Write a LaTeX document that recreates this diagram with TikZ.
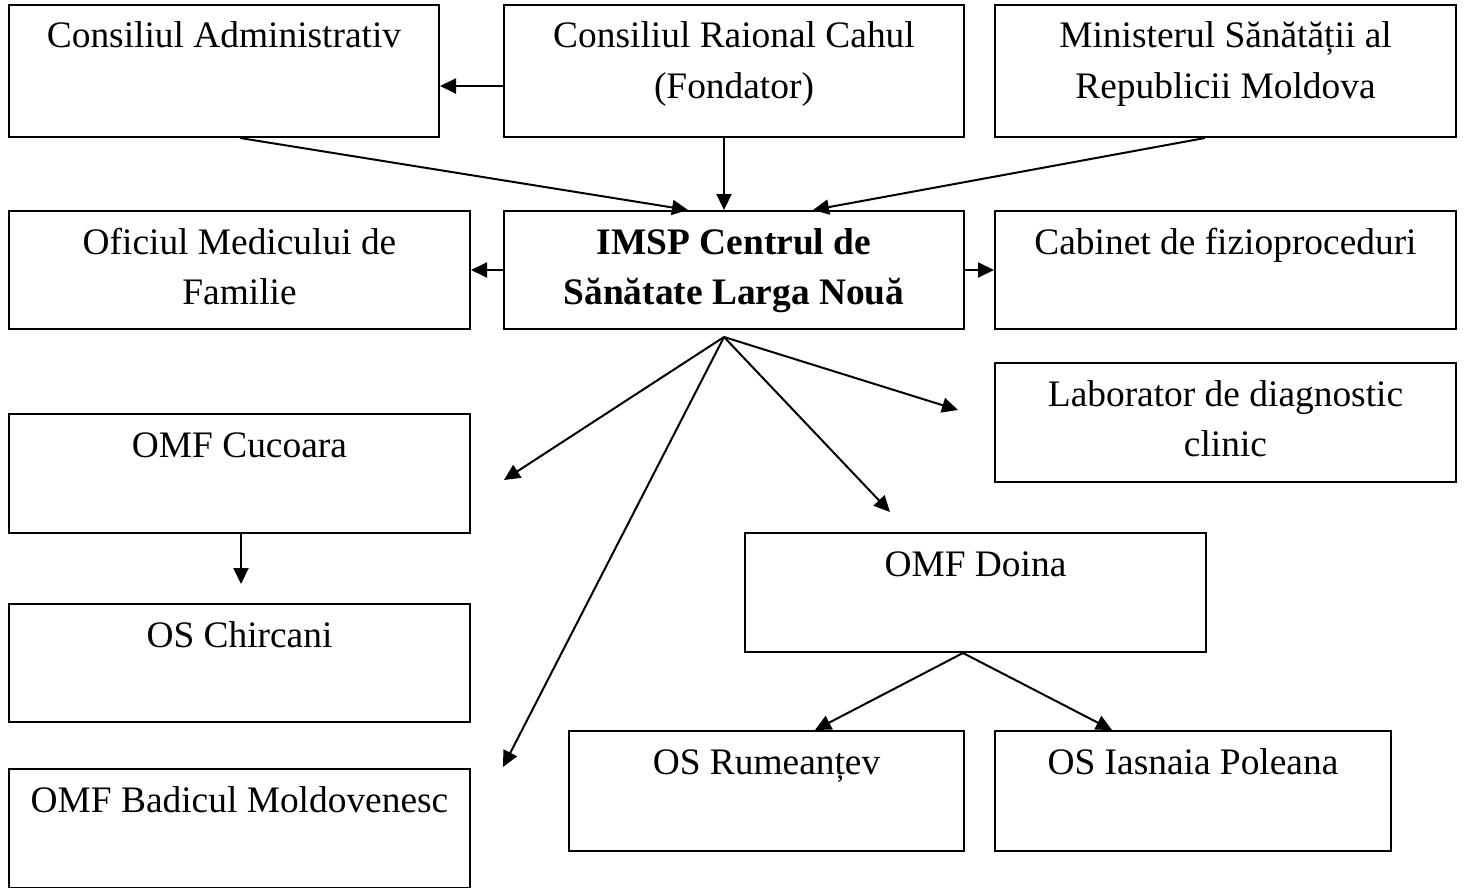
\documentclass[tikz,border=0pt]{standalone}
\usepackage{fontspec}
\setmainfont{Liberation Serif}
\usetikzlibrary{arrows.meta}

\begin{document}
\begin{tikzpicture}[x=0.5pt,y=-0.5pt,
        box/.style={draw,line width=1pt,anchor=north west,inner sep=0pt,align=flush center,
            text height=21.5pt,font=\fontsize{18.7}{25}\selectfont},
        arr/.style={line width=1pt,-{Triangle[length=8pt,width=7.5pt]}}]
        \useasboundingbox (0,0) rectangle (1466,888);

        \node[box,text width=215pt,text depth=44.5pt] (adm) at (8,4) {Consiliul Administrativ};
        \node[box,text width=230pt,text depth=44.5pt] (cahul) at (503,4) {Consiliul Raional Cahul\\(Fondator)};
        \node[box,text width=230.5pt,text depth=44.5pt] (min) at (994,4) {Ministerul Sănătății al\\Republicii Moldova};

        \node[box,text width=230.5pt,text depth=37.5pt] (ofic) at (8,210) {Oficiul Medicului de\\Familie};
        \node[box,text width=230pt,text depth=37.5pt,font=\fontsize{18.7}{25}\selectfont\bfseries] (imsp) at (503,210) {IMSP Centrul de\\Sănătate Larga Nouă};
        \node[box,text width=230.5pt,text depth=37.5pt] (cab) at (994,210) {Cabinet de fizioproceduri};

        \node[box,text width=230.5pt,text depth=38pt] (lab) at (994,362) {Laborator de diagnostic\\clinic};
        \node[box,text width=230.5pt,text depth=38pt] (cuc) at (8,413) {OMF Cucoara};
        \node[box,text width=230.5pt,text depth=38pt] (doina) at (744,532) {OMF Doina};
        \node[box,text width=230.5pt,text depth=37.5pt] (chir) at (8,603) {OS Chircani};
        \node[box,text width=197.5pt,text depth=38.5pt] (rum) at (568,730) {OS Rumeanțev};
        \node[box,text width=198pt,text depth=38.5pt] (iasn) at (994,730) {OS Iasnaia Poleana};
        \node[box,text width=230.5pt,text depth=38pt] (badi) at (8,768) {OMF Badicul Moldovenesc};

        \coordinate (fan) at (724,337);
        \coordinate (tolab) at (958,410);
        \coordinate (todoina) at (890,512);
        \coordinate (tocuc) at (504,480);
        \coordinate (tobadi) at (503,767);
        \coordinate (tochir) at (241,584);

        \draw[arr] (cahul.west |- 0,86) -- (adm.east |- 0,86);
        \draw[arr] (240,0 |- adm.south) -- (688,0 |- imsp.north);
        \draw[arr] (724,0 |- cahul.south) -- (724,0 |- imsp.north);
        \draw[arr] (1205,0 |- min.south) -- (813,0 |- imsp.north);
        \draw[arr] (imsp.west) -- (ofic.east);
        \draw[arr] (imsp.east) -- (cab.west);

        \foreach \t in {tolab,todoina,tocuc,tobadi}
            \draw[arr] (fan) -- (\t);

        \draw[arr] (241,0 |- cuc.south) -- (tochir);
        \draw[arr] (963,0 |- doina.south) -- (815,0 |- rum.north);
        \draw[arr] (963,0 |- doina.south) -- (1112,0 |- iasn.north);

    \end{tikzpicture}
\end{document}
